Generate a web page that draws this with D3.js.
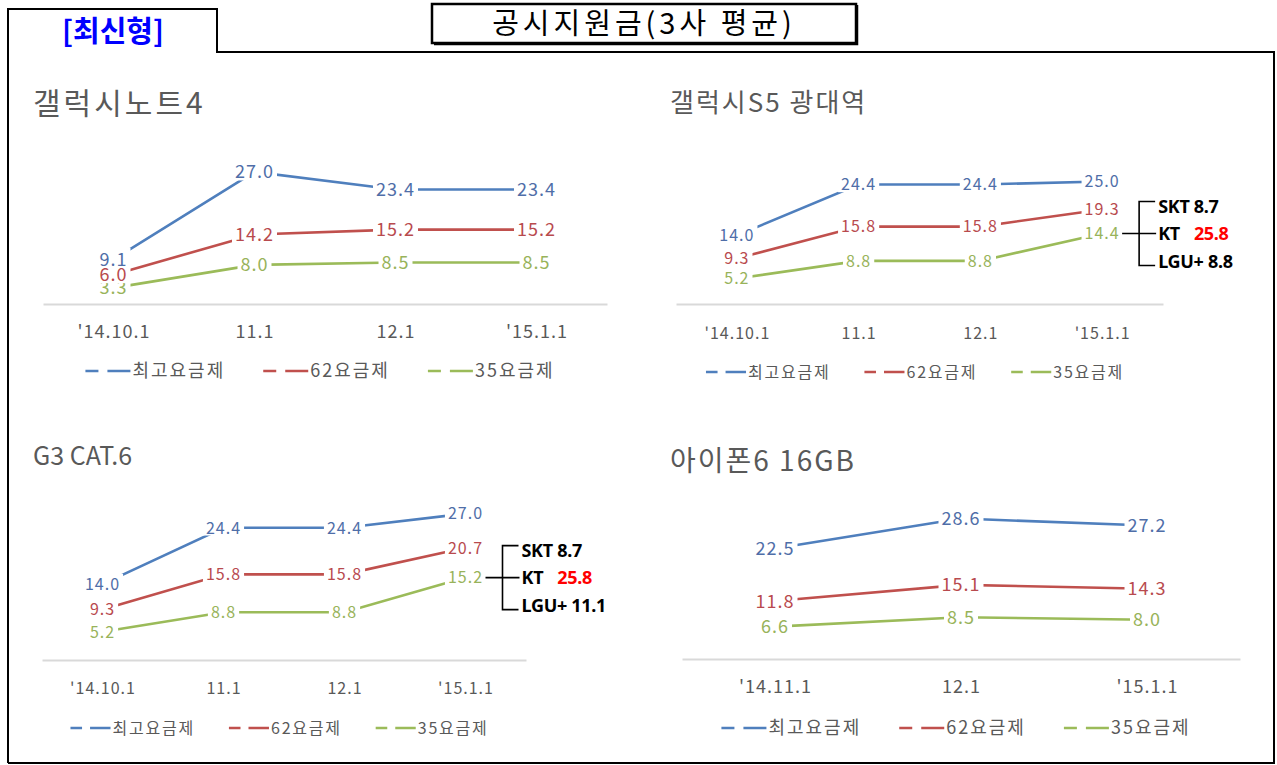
<!DOCTYPE html>
<html><head><meta charset="utf-8">
<script src="https://cdn.jsdelivr.net/npm/d3@7"></script>
<style>
body{margin:0;background:#fff;}
svg{display:block;font-family:"Noto Sans CJK KR","Noto Sans",sans-serif;}
</style></head>
<body><svg id="c" width="1277" height="765"></svg>
<script>
// ---------- data ----------
const categories4 = ["'14.10.1", "11.1", "12.1", "'15.1.1"];
const categoriesIphone = ["'14.11.1", "12.1", "'15.1.1"];
const seriesNames = ["최고요금제", "62요금제", "35요금제"];

const note4Top = [9.1, 27.0, 23.4, 23.4];
const note4Mid = [6.0, 14.2, 15.2, 15.2];
const note4Low = [3.3, 8.0, 8.5, 8.5];

const s5Top = [14.0, 24.4, 24.4, 25.0];
const s5Mid = [9.3, 15.8, 15.8, 19.3];
const s5Low = [5.2, 8.8, 8.8, 14.4];

const g3Top = [14.0, 24.4, 24.4, 27.0];
const g3Mid = [9.3, 15.8, 15.8, 20.7];
const g3Low = [5.2, 8.8, 8.8, 15.2];

const iphoneTop = [22.5, 28.6, 27.2];
const iphoneMid = [11.8, 15.1, 14.3];
const iphoneLow = [6.6, 8.5, 8.0];

const carriers = ["SKT", "KT", "LGU+"];
const s5CarrierValues = [8.7, 25.8, 8.8];
const g3CarrierValues = [8.7, 25.8, 11.1];

const chartTitles = ["갤럭시노트4", "갤럭시S5 광대역", "G3 CAT.6", "아이폰6 16GB"];
const headerTab = "[최신형]";
const headerTitle = "공시지원금(3사 평균)";

// ---------- style ----------
const lineColors = ["#4f7fbd", "#c0504d", "#9bbb59"];
const labelColors = ["#4f6ea8", "#b84a4e", "#98b35a"];
const grey = "#595959";

const svg = d3.select("#c");

// ---------- frame & header ----------
svg.append("path")
  .attr("d", d3.line()([[8,763],[8,9],[217,9],[217,52],[1274,52],[1274,763],[8,763]]))
  .attr("fill","none").attr("stroke","#000").attr("stroke-width",2);
svg.append("text").attr("x",113).attr("y",32).attr("dy","0.35em")
  .attr("text-anchor","middle").attr("fill","#0000ff").attr("font-weight","bold")
  .attr("font-size",29).text(headerTab);
svg.append("rect").attr("x",432).attr("y",4).attr("width",424).attr("height",39)
  .attr("fill","none").attr("stroke","#000").attr("stroke-width",2.5);
svg.append("path").attr("d", d3.line()([[434,44.5],[857.5,44.5],[857.5,5]]))
  .attr("fill","none").attr("stroke","#000").attr("stroke-width",1.5);
svg.append("text").attr("x",644).attr("y",24).attr("dy","0.36em")
  .attr("text-anchor","middle").attr("fill","#000").attr("font-size",29)
  .attr("letter-spacing",4).text(headerTitle);

// ---------- charts ----------
const charts = [
  {title: chartTitles[0], cats: categories4, series:[note4Top, note4Mid, note4Low],
   xr:[43,607], y0:304, ppu:4.89, tickY:332, legY:371, tx:33, ty:103, tfs:30, tls:3, k:1},
  {title: chartTitles[1], cats: categories4, series:[s5Top, s5Mid, s5Low],
   xr:[676,1163], y0:304, ppu:4.9, tickY:333, legY:372, tx:670, ty:103, tfs:26, tls:2, k:0.89,
   carrierValues: s5CarrierValues},
  {title: chartTitles[2], cats: categories4, series:[g3Top, g3Mid, g3Low],
   xr:[42,526], y0:660, ppu:5.42, tickY:688, legY:728, tx:33, ty:456, tfs:25, tls:0, k:0.89,
   carrierValues: g3CarrierValues},
  {title: chartTitles[3], cats: categoriesIphone, series:[iphoneTop, iphoneMid, iphoneLow],
   xr:[682,1240], y0:659, ppu:4.91, tickY:687, legY:728, tx:670, ty:461, tfs:28, tls:2, k:1}
];

charts.forEach(c => {
  const g = svg.append("g");
  const x = d3.scalePoint().domain(c.cats).range(c.xr).padding(0.5);
  const y = d3.scaleLinear().domain([0, 30]).range([c.y0, c.y0 - 30*c.ppu]);
  const fs = 18*c.k;

  // title
  g.append("text").attr("x",c.tx).attr("y",c.ty).attr("dy","0.36em")
    .attr("fill",grey).attr("font-size",c.tfs).attr("letter-spacing",c.tls).text(c.title);

  // axis
  const ax = g.append("g").attr("transform",`translate(0,${c.y0})`)
    .call(d3.axisBottom(x).tickSize(0).tickSizeOuter(0));
  ax.select(".domain").attr("stroke","#d9d9d9").attr("stroke-width",2);
  ax.selectAll(".tick text").attr("y", c.tickY - c.y0).attr("dy","0.35em")
    .attr("fill",grey).attr("font-size",fs).attr("letter-spacing",1)
    .attr("font-family","\"Noto Sans CJK KR\",sans-serif");

  // lines
  const line = d3.line().x((d,i)=>x(c.cats[i])).y(d=>y(d));
  c.series.forEach((s,si) => {
    g.append("path").datum(s).attr("d",line).attr("fill","none")
      .attr("stroke",lineColors[si]).attr("stroke-width",2.6);
  });

  // labels (low first so higher series labels sit on top)
  [2,1,0].forEach(si => {
    c.series[si].forEach((v,i) => {
      const lg = g.append("g");
      const t = lg.append("text").attr("x",x(c.cats[i])).attr("y",y(v)).attr("dy","0.36em")
        .attr("text-anchor","middle").attr("fill",labelColors[si])
        .attr("font-size",fs).attr("letter-spacing",1).text(v.toFixed(1));
      const b = t.node().getBBox();
      lg.insert("rect","text").attr("x",b.x-3).attr("y",b.y+3).attr("width",b.width+6)
        .attr("height",b.height-6).attr("fill","#fff");
    });
  });

  // legend
  const lgG = g.append("g");
  let cx = 0;
  const symW = 45*c.k;
  seriesNames.forEach((n,i) => {
    lgG.append("line").attr("x1",cx).attr("x2",cx+symW).attr("y1",c.legY).attr("y2",c.legY)
      .attr("stroke",lineColors[i]).attr("stroke-width",2.6)
      .attr("stroke-dasharray",`${13*c.k},${9*c.k},${40*c.k}`);
    cx += symW + 2;
    const t = lgG.append("text").attr("x",cx).attr("y",c.legY).attr("dy","0.36em")
      .attr("fill",grey).attr("font-size",fs).attr("letter-spacing",2*c.k).text(n);
    cx += t.node().getComputedTextLength() + 2*c.k*n.length;
    if (i < seriesNames.length-1) cx += 28*c.k;
  });
  const mid = (c.xr[0]+c.xr[1])/2;
  lgG.attr("transform",`translate(${mid - cx/2},0)`);

  // carrier annotation
  if (c.carrierValues) {
    const lastCat = c.cats[c.cats.length-1];
    const lx = x(lastCat);
    const my = y(c.series[2][c.series[2].length-1]);
    const bx = lx + 37;
    const ann = g.append("g").attr("stroke","#000").attr("stroke-width",1.6).attr("fill","none");
    ann.append("path").attr("d", d3.line()([[bx+16,my-32],[bx,my-32],[bx,my+32],[bx+16,my+32]]));
    ann.append("line").attr("x1",lx+20).attr("x2",bx+17).attr("y1",my).attr("y2",my);
    const offs = [-27, 0, 28];
    carriers.forEach((cr,i) => {
      const t = g.append("text").attr("x",bx+19).attr("y",my+offs[i]).attr("dy","0.36em")
        .attr("font-family","\"Noto Sans\",sans-serif").attr("font-weight","bold")
        .attr("font-size",18).attr("fill","#000").attr("letter-spacing",-0.3);
      if (cr === "KT") {
        t.append("tspan").text(cr);
        t.append("tspan").attr("dx",14).attr("fill","#ff0000").text(c.carrierValues[i].toFixed(1));
      } else {
        t.text(cr + " " + c.carrierValues[i].toFixed(1));
      }
    });
  }
});
</script></body></html>
